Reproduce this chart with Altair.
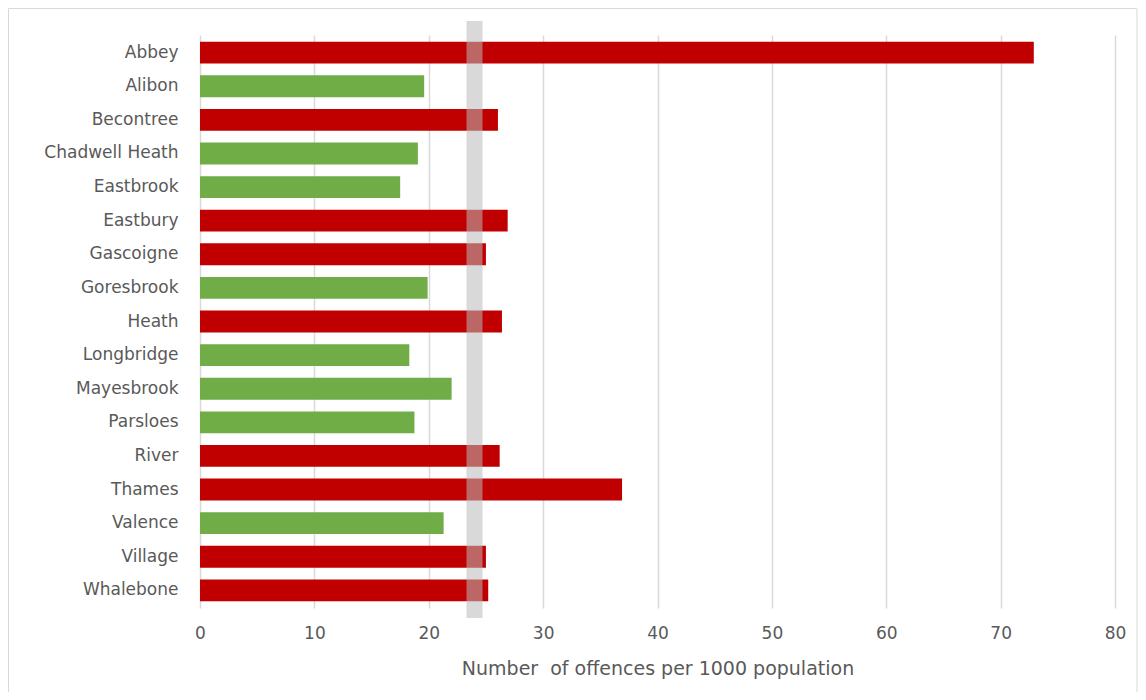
import altair as alt
import pandas as pd

wards = ["Abbey", "Alibon", "Becontree", "Chadwell Heath", "Eastbrook", "Eastbury",
         "Gascoigne", "Goresbrook", "Heath", "Longbridge", "Mayesbrook", "Parsloes",
         "River", "Thames", "Valence", "Village", "Whalebone"]
offences = [72.9, 19.6, 26.05, 19.05, 17.5, 26.9, 25.0, 19.9, 26.4, 18.3, 22.0,
            18.75, 26.2, 36.9, 21.3, 25.0, 25.2]
status = ["Above", "Below", "Above", "Below", "Below", "Above", "Above", "Below",
          "Above", "Below", "Below", "Below", "Above", "Above", "Below", "Above", "Above"]
band_lo = [23.3]
band_hi = [24.7]

df = pd.DataFrame({"ward": wards, "value": offences, "status": status})
band_df = pd.DataFrame({"lo": band_lo, "hi": band_hi})

FONT = "DejaVu Sans"
FS = 17
W, H = 915, 573

bars = alt.Chart(df).mark_bar().encode(
    y=alt.Y("ward:N", sort=wards,
            scale=alt.Scale(paddingInner=0.35, paddingOuter=0.2),
            axis=alt.Axis(title=None, domain=False, ticks=False, grid=False,
                          labelPadding=22, labelFontSize=FS, labelColor="#595959",
                          labelFont=FONT)),
    x=alt.X("value:Q", scale=alt.Scale(domain=[0, 80], nice=False),
            axis=alt.Axis(values=[0, 10, 20, 30, 40, 50, 60, 70, 80],
                          title="Number\u00a0\u00a0of offences per 1000 population",
                          titleFontSize=19, titleFontWeight="normal", titleColor="#595959",
                          titleFont=FONT, titlePadding=18,
                          domain=False, ticks=False, labelPadding=17, labelFlush=False,
                          labelFontSize=FS, labelColor="#595959", labelFont=FONT,
                          grid=True, gridColor="#D9D9D9", gridWidth=1.5)),
    color=alt.Color("status:N",
                    scale=alt.Scale(domain=["Above", "Below"], range=["#C00000", "#70AD47"]),
                    legend=None),
)

band = alt.Chart(band_df).mark_rect(color="#B9B9B9", opacity=0.55).encode(
    x="lo:Q", x2="hi:Q",
    y=alt.value(-14), y2=alt.value(H + 10),
)

frame = alt.Chart(band_df).mark_rect(fill=None, stroke="#D9D9D9", strokeWidth=1).encode(
    x=alt.value(-191.5), x2=alt.value(W + 22),
    y=alt.value(-26.5), y2=alt.value(H + 100),
)

chart = alt.layer(frame, bars, band).properties(
    width=W, height=H,
    autosize=alt.AutoSizeParams(type="none"),
    padding={"left": 192, "top": 27, "right": 23, "bottom": 84},
).configure_view(stroke=None)

chart.save("out.html", embed_options={"renderer": "svg", "actions": False})
